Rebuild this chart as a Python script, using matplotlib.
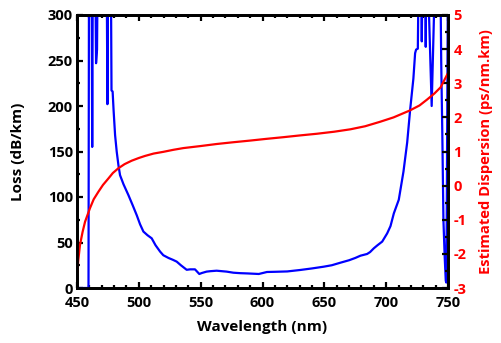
import matplotlib
matplotlib.use("Agg")
import matplotlib.pyplot as plt
from matplotlib.ticker import MultipleLocator

plt.rcParams['font.family'] = ['Open Sans', 'DejaVu Sans']
plt.rcParams['font.weight'] = 'bold'
plt.rcParams['axes.unicode_minus'] = False

# Loss spectrum (blue), values above 300 are clipped by the axis
loss_wl = [450, 459.3, 459.7, 461.8, 462.3, 462.8, 464.8, 465.4, 466.2, 466.7,
           474.0, 474.6, 475.2, 477.4, 477.9, 478.8, 479.6, 480.8, 482.1, 483.5,
           484.8, 487.6, 491.6, 495.0, 498.3, 501.0, 503.7, 507.0, 510.4, 513.5,
           517.2, 519.8, 524.0, 527.5, 530.6, 534.0, 538.7, 541.5, 545.4, 548.9,
           551.0, 554.8, 558.0, 562.9, 567.0, 571.0, 576.5, 582.0, 588.0, 597.0,
           603.6, 610.0, 620.0, 630.5, 640.0, 649.4, 656.0, 663.0, 670.0, 675.0,
           679.2, 684.6, 687.0, 690.0, 693.0, 696.8, 700.8, 703.5, 706.2, 710.2,
           714.0, 717.0, 719.4, 722.0, 723.4, 724.2, 725.6, 726.3, 728.2, 728.8,
           729.4, 731.6, 732.0, 732.4, 733.6, 736.8, 739.6, 743.8, 744.5, 745.4,
           746.3, 747.3, 748.2, 748.6, 749.0, 749.6, 750.0]
loss_db = [0, 0, 350, 350, 155, 350, 350, 247, 262, 350,
           350, 202, 350, 350, 217, 216, 195, 168, 150, 135,
           124, 114, 102, 91, 80, 70, 62, 58, 54.6, 47,
           40, 36, 33, 31, 29, 25, 20, 20.5, 20.5, 15.4,
           16.5, 18, 18.5, 19, 18.5, 18, 16.8, 16.3, 16, 15.4,
           17.6, 17.8, 18.2, 19.8, 21.5, 23.4, 25, 27.8, 30.5, 33,
           35.5, 37.4, 39.5, 43.6, 47, 51, 60, 68, 82, 97,
           128, 160, 196, 230, 258, 262, 263, 350, 350, 271,
           350, 350, 265, 350, 350, 200, 350, 350, 250, 170,
           75, 35, 8, 6, 80, 250, 350]

# Estimated dispersion (red)
disp_wl = [450, 451, 452.4, 454.5, 456.5, 460.5, 463.5, 467.3, 471, 475.4, 479,
           483.5, 488.5, 494.2, 500, 505, 512, 519.8, 528, 536, 550, 563, 576,
           590, 603, 617, 630, 644, 658, 671, 683, 695, 706, 719, 727, 733,
           739, 744, 750]
disp_val = [-2.62, -2.2, -1.74, -1.36, -1.06, -0.66, -0.4, -0.18, 0.02, 0.21,
            0.37, 0.51, 0.63, 0.73, 0.81, 0.87, 0.94, 0.99, 1.05, 1.1, 1.16,
            1.22, 1.27, 1.32, 1.37, 1.42, 1.47, 1.52, 1.58, 1.65, 1.74, 1.87,
            2.0, 2.2, 2.35, 2.52, 2.7, 2.88, 3.3]

fig = plt.figure(figsize=(5.02, 3.43), dpi=100)
ax = fig.add_axes([77/502, 1-288/343, (448-77)/502, (288-15)/343])
ax2 = ax.twinx()

ax.plot(loss_wl, loss_db, color='#0000ff', lw=1.6, zorder=3)
ax2.plot(disp_wl, disp_val, color='#ff0000', lw=1.6)

ax.set_xlim(450, 750)
ax.set_ylim(0, 300)
ax2.set_ylim(-3, 5)

ax.xaxis.set_major_locator(MultipleLocator(50))
ax.xaxis.set_minor_locator(MultipleLocator(10))
ax.yaxis.set_major_locator(MultipleLocator(50))
ax.yaxis.set_minor_locator(MultipleLocator(25))
ax2.yaxis.set_major_locator(MultipleLocator(1))
ax2.yaxis.set_minor_locator(MultipleLocator(0.5))

for a in (ax, ax2):
    for s in a.spines.values():
        s.set_linewidth(2.0)

ax.tick_params(axis='x', which='both', direction='in', top=True, bottom=True,
               labelsize=10.5, width=1.6, pad=6)
ax.tick_params(axis='x', which='major', length=4)
ax.tick_params(axis='x', which='minor', length=2.5)
ax.tick_params(axis='y', which='both', direction='in', left=True, right=False,
               labelsize=10.5, width=1.6, pad=3)
ax.tick_params(axis='y', which='major', length=4)
ax.tick_params(axis='y', which='minor', length=2.5)
ax2.tick_params(axis='y', which='both', direction='in', right=True,
                labelsize=10.5, width=1.6, colors='black', labelcolor='#ff0000', pad=4)
ax2.tick_params(axis='y', which='major', length=4)
ax2.tick_params(axis='y', which='minor', length=2.5)

for lab in ax.get_xticklabels() + ax.get_yticklabels() + ax2.get_yticklabels():
    lab.set_fontweight('bold')

ax.set_xlabel('Wavelength (nm)', fontsize=11, fontweight='bold', labelpad=7)
ax.set_ylabel('Loss (dB/km)', fontsize=11, fontweight='bold', labelpad=16)
ax2.set_ylabel('Estimated Dispersion (ps/nm.km)', fontsize=10.6, fontweight='bold',
               color='#ff0000', labelpad=9)

fig.savefig('out.png', dpi=100)
